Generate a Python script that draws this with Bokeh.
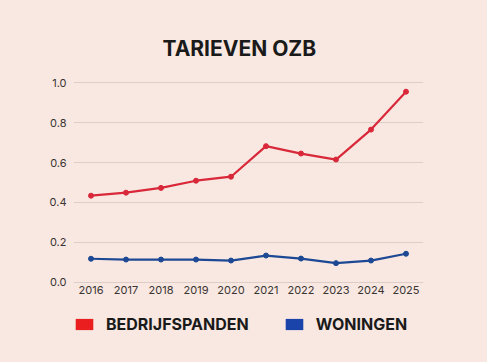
from bokeh.plotting import figure
from bokeh.layouts import column
from bokeh.models import Legend, LegendItem, Range1d, FixedTicker, CustomJSTickFormatter
from bokeh.embed import file_html
from bokeh.resources import INLINE

years = [2016, 2017, 2018, 2019, 2020, 2021, 2022, 2023, 2024, 2025]
bedrijfspanden = [0.434, 0.449, 0.473, 0.509, 0.529, 0.682, 0.645, 0.615, 0.765, 0.955]
woningen = [0.118, 0.114, 0.114, 0.114, 0.109, 0.134, 0.119, 0.096, 0.109, 0.143]
y_ticks = [0.0, 0.2, 0.4, 0.6, 0.8, 1.0]
title_text = "TARIEVEN OZB"
series_names = ["BEDRIJFSPANDEN", "WONINGEN"]

BG = "#f8e8e1"
RED_LINE = "#d9283a"
BLUE_LINE = "#1d4894"
RED_KEY = "#ea1e1e"
BLUE_KEY = "#1a44aa"
FONT = "Inter"

# main chart: frame 73..423 x 81..283 (page pixels)
p = figure(width=487, height=305, output_backend="svg", toolbar_location=None,
           x_range=Range1d(2015.5, 2025.5), y_range=Range1d(-0.006, 1.006),
           min_border_left=73, min_border_right=64, min_border_top=81, min_border_bottom=22)
p.background_fill_color = None
p.border_fill_color = BG
p.outline_line_color = None

p.title.text = title_text
p.title.text_font = FONT
p.title.text_font_style = "bold"
p.title.text_font_size = "21px"
p.title.text_color = "#1a1a1a"
p.title.align = "left"
p.title.offset = 89
p.title.standoff = 41

p.line(years, bedrijfspanden, line_color=RED_LINE, line_width=2.2)
p.scatter(years, bedrijfspanden, size=5, color=RED_LINE)
p.line(years, woningen, line_color=BLUE_LINE, line_width=2.2)
p.scatter(years, woningen, size=5, color=BLUE_LINE)

p.xaxis.ticker = FixedTicker(ticks=years)
p.yaxis.ticker = FixedTicker(ticks=y_ticks)
p.yaxis.formatter = CustomJSTickFormatter(code="return tick.toFixed(1);")
for ax in (p.xaxis[0], p.yaxis[0]):
    ax.axis_line_color = None
    ax.major_tick_line_color = None
    ax.minor_tick_line_color = None
    ax.major_tick_out = 0
    ax.major_tick_in = 0
    ax.major_label_text_font = FONT
    ax.major_label_text_font_size = "11px"
    ax.major_label_text_color = "#3a3432"
p.yaxis.major_label_standoff = 7
p.xaxis.major_label_standoff = 2
p.xgrid.grid_line_color = None
p.ygrid.grid_line_color = "#dccdc7"
p.ygrid.grid_line_width = 1

# legend strip (its frame is aligned with the chart frame by the column layout)
q = figure(width=487, height=57, output_backend="svg", toolbar_location=None,
           x_range=Range1d(0, 1), y_range=Range1d(0, 1),
           min_border_left=0, min_border_right=0, min_border_top=0, min_border_bottom=0)
q.axis.visible = False
q.grid.visible = False
q.background_fill_color = None
q.border_fill_color = BG
q.outline_line_color = None
# zero-area proxies: only their legend keys are visible
r_red = q.quad(left=[0], right=[0], top=[0], bottom=[0], fill_color=RED_KEY, line_color=None)
r_blue = q.quad(left=[0], right=[0], top=[0], bottom=[0], fill_color=BLUE_KEY, line_color=None)

legend = Legend(items=[LegendItem(label=series_names[0], renderers=[r_red]),
                       LegendItem(label=series_names[1], renderers=[r_blue])],
                orientation="horizontal", location=(0, 28),
                glyph_width=22, glyph_height=14, label_height=14, label_width=20,
                label_standoff=11, spacing=34,
                label_text_font=FONT, label_text_font_style="bold", label_text_font_size="16px",
                label_text_color="#1a1a1a", background_fill_alpha=0, border_line_color=None,
                padding=0, margin=0)
q.add_layout(legend, "center")

layout = column(p, q, spacing=0)
html = file_html(layout, INLINE)
html = html.replace("<head>", "<head><style>body{background:%s;}</style>" % BG, 1)
open("out.html", "w").write(html)
